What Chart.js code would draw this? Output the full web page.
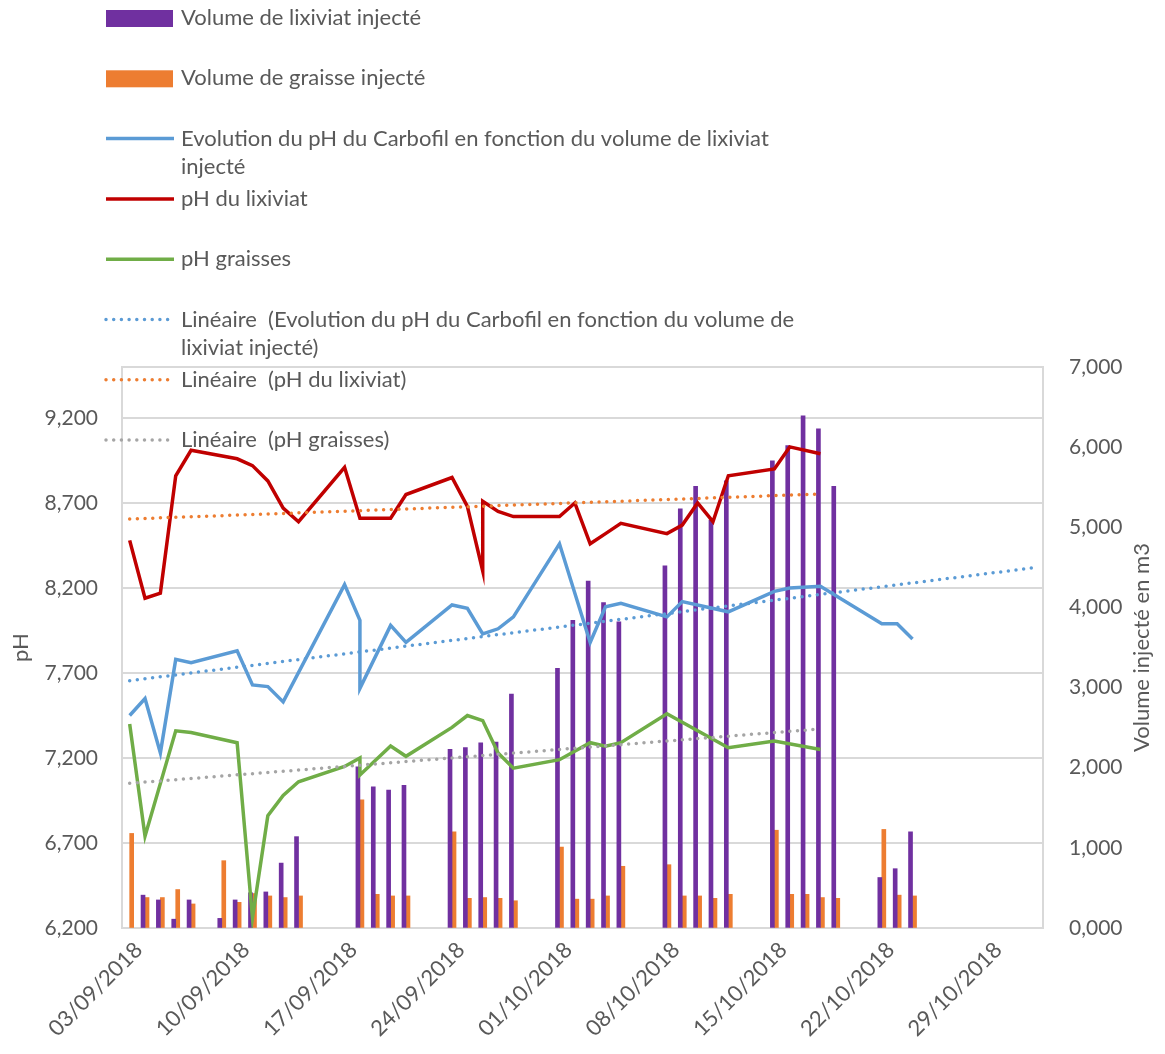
<!DOCTYPE html>
<html>
<head>
<meta charset="utf-8">
<script src="https://cdn.jsdelivr.net/npm/chart.js@4.4.1/dist/chart.umd.min.js"></script>
<style>
  html, body { margin: 0; padding: 0; background: #fff; }
  #wrap { width: 1165px; height: 1054px; position: relative; }
</style>
</head>
<body>
<div id="wrap"><canvas id="phChart"></canvas></div>
<script>
// ---------------- data ----------------
const volumeDates = ['03/09/2018', '04/09/2018', '05/09/2018', '06/09/2018', '07/09/2018', '09/09/2018',
  '10/09/2018', '11/09/2018', '12/09/2018', '13/09/2018', '14/09/2018', '18/09/2018', '19/09/2018',
  '20/09/2018', '21/09/2018', '24/09/2018', '25/09/2018', '26/09/2018', '27/09/2018', '28/09/2018',
  '01/10/2018', '02/10/2018', '03/10/2018', '04/10/2018', '05/10/2018', '08/10/2018', '09/10/2018',
  '10/10/2018', '11/10/2018', '12/10/2018', '15/10/2018', '16/10/2018', '17/10/2018', '18/10/2018',
  '19/10/2018', '22/10/2018', '23/10/2018', '24/10/2018'];
const volumeLixiviat = [null, 0.41, 0.35, 0.11, 0.35, 0.12, 0.35, 0.44, 0.45, 0.81, 1.14, 2.01, 1.76,
  1.72, 1.78, 2.23, 2.25, 2.31, 2.32, 2.92, 3.24, 3.84, 4.33, 4.06, 3.82, 4.52, 5.23, 5.51, 5.09, 5.58,
  5.83, 6.02, 6.39, 6.23, 5.51, 0.63, 0.74, 1.20];
const volumeGraisse = [1.18, 0.38, 0.38, 0.48, 0.30, 0.84, 0.32, 0.43, 0.40, 0.38, 0.40, 1.60, 0.42,
  0.40, 0.40, 1.20, 0.37, 0.38, 0.37, 0.34, 1.01, 0.36, 0.36, 0.40, 0.77, 0.79, 0.40, 0.40, 0.37, 0.42,
  1.22, 0.42, 0.42, 0.38, 0.37, 1.23, 0.41, 0.40];

const carbofilDates = ['03/09/2018', '04/09/2018', '05/09/2018', '06/09/2018', '07/09/2018', '10/09/2018',
  '11/09/2018', '12/09/2018', '13/09/2018', '17/09/2018', '18/09/2018', '18/09/2018', '20/09/2018',
  '21/09/2018', '24/09/2018', '25/09/2018', '26/09/2018', '27/09/2018', '28/09/2018', '01/10/2018',
  '03/10/2018', '04/10/2018', '05/10/2018', '08/10/2018', '09/10/2018', '12/10/2018', '15/10/2018',
  '16/10/2018', '18/10/2018', '22/10/2018', '23/10/2018', '24/10/2018'];
const carbofilPH = [7.45, 7.55, 7.23, 7.78, 7.76, 7.83, 7.63, 7.62, 7.53, 8.22, 8.01, 7.61, 7.98, 7.88,
  8.10, 8.08, 7.93, 7.96, 8.03, 8.46, 7.88, 8.09, 8.11, 8.03, 8.12, 8.06, 8.18, 8.20, 8.21, 7.99, 7.99, 7.90];

const lixiviatDates = ['03/09/2018', '04/09/2018', '05/09/2018', '06/09/2018', '07/09/2018', '10/09/2018',
  '11/09/2018', '12/09/2018', '13/09/2018', '14/09/2018', '17/09/2018', '18/09/2018', '20/09/2018',
  '21/09/2018', '24/09/2018', '25/09/2018', '26/09/2018', '26/09/2018', '27/09/2018', '28/09/2018',
  '01/10/2018', '02/10/2018', '03/10/2018', '04/10/2018', '05/10/2018', '08/10/2018', '09/10/2018',
  '10/10/2018', '11/10/2018', '12/10/2018', '15/10/2018', '16/10/2018', '18/10/2018'];
const lixiviatPH = [8.48, 8.14, 8.17, 8.86, 9.01, 8.96, 8.92, 8.83, 8.67, 8.59, 8.91, 8.61, 8.61, 8.75,
  8.85, 8.68, 8.30, 8.71, 8.65, 8.62, 8.62, 8.70, 8.46, 8.52, 8.58, 8.52, 8.57, 8.70, 8.59, 8.86, 8.90,
  9.03, 8.99];

const graissesDates = ['03/09/2018', '04/09/2018', '06/09/2018', '07/09/2018', '10/09/2018', '11/09/2018',
  '12/09/2018', '13/09/2018', '14/09/2018', '17/09/2018', '18/09/2018', '18/09/2018', '20/09/2018',
  '21/09/2018', '24/09/2018', '25/09/2018', '26/09/2018', '27/09/2018', '28/09/2018', '01/10/2018',
  '03/10/2018', '04/10/2018', '05/10/2018', '08/10/2018', '12/10/2018', '15/10/2018', '18/10/2018'];
const graissesPH = [7.40, 6.74, 7.36, 7.35, 7.29, 6.26, 6.86, 6.98, 7.06, 7.15, 7.20, 7.10, 7.27, 7.21,
  7.38, 7.45, 7.42, 7.23, 7.14, 7.19, 7.29, 7.27, 7.29, 7.46, 7.26, 7.30, 7.25];

// trend lines (start / end as seen on the picture)
const trendCarbofilDates = ['03/09/2018', '01/11/2018'];
const trendCarbofilPH = [7.655, 8.32];
const trendLixiviatDates = ['03/09/2018', '18/10/2018'];
const trendLixiviatPH = [8.606, 8.753];
const trendGraissesDates = ['03/09/2018', '18/10/2018'];
const trendGraissesPH = [7.051, 7.371];

const xTickLabels = ['03/09/2018', '10/09/2018', '17/09/2018', '24/09/2018', '01/10/2018',
  '08/10/2018', '15/10/2018', '22/10/2018', '29/10/2018'];
const phTicks = [6.2, 6.7, 7.2, 7.7, 8.2, 8.7, 9.2];
const volumeTicks = [0, 1, 2, 3, 4, 5, 6, 7];

// ---------------- helpers ----------------
const START = Date.UTC(2018, 8, 3);
function dayIndex(str) {
  const [dd, mm, yy] = str.split('/').map(Number);
  return Math.round((Date.UTC(yy, mm - 1, dd) - START) / 86400000);
}
function dayLabel(idx) {
  const d = new Date(START + idx * 86400000);
  const p = (n) => String(n).padStart(2, '0');
  return p(d.getUTCDate()) + '/' + p(d.getUTCMonth() + 1) + '/' + d.getUTCFullYear();
}
function toPoints(dates, values) {
  return dates.map((s, i) => ({ x: dayIndex(s), y: values[i] }));
}
const fr = (v) => v.toFixed(3).replace('.', ',');

const GREY_TEXT = '#595959';
const GRID = '#D9D9D9';
const FONT = 'Lato';

// ---------------- legend drawn over the top of the chart ----------------
const sideLegend = {
  id: 'sideLegend',
  afterDraw(chart) {
    const ctx = chart.ctx;
    ctx.save();
    ctx.font = '22px ' + FONT;
    ctx.textBaseline = 'middle';
    chart.data.datasets.forEach((ds, i) => {
      const y = 18 + i * 60.3;
      if (ds.type === 'bar') {
        ctx.fillStyle = ds.backgroundColor;
        ctx.fillRect(106, y - 8, 67, 17);
      } else {
        ctx.strokeStyle = ds.borderColor;
        ctx.lineWidth = 3.5;
        ctx.lineCap = ds.borderDash ? 'round' : 'butt';
        ctx.setLineDash(ds.borderDash ? [0, 7.7] : []);
        ctx.beginPath();
        ctx.moveTo(106, y);
        ctx.lineTo(ds.borderDash ? 170 : 174, y);
        ctx.stroke();
      }
      ctx.fillStyle = GREY_TEXT;
      const lines = Array.isArray(ds.label) ? ds.label : [ds.label];
      lines.forEach((t, j) => ctx.fillText(t, 181, y + j * 28));
    });
    // right axis title, read from bottom to top
    const area = chart.chartArea;
    ctx.translate(1142, (area.top + area.bottom) / 2);
    ctx.rotate(-Math.PI / 2);
    ctx.textAlign = 'center';
    ctx.font = '22px ' + FONT;
    ctx.fillText('Volume injecté en m3', 0, 0);
    ctx.restore();
  }
};

// ---------------- chart ----------------
const ctx = document.querySelector('#phChart').getContext('2d');
const chart = new Chart(ctx, {
  type: 'bar',
  data: {
    datasets: [
      {
        type: 'bar', label: 'Volume de lixiviat injecté', yAxisID: 'y2', order: 2,
        data: toPoints(volumeDates, volumeLixiviat),
        backgroundColor: '#7030A0', barThickness: 4,
      },
      {
        type: 'bar', label: 'Volume de graisse injecté', yAxisID: 'y2', order: 2,
        data: toPoints(volumeDates, volumeGraisse),
        backgroundColor: '#ED7D31', barThickness: 4,
      },
      {
        type: 'line', label: ['Evolution du pH du Carbofil en fonction du volume de lixiviat', 'injecté'],
        yAxisID: 'y', order: 1, data: toPoints(carbofilDates, carbofilPH),
        borderColor: '#5B9BD5', borderWidth: 3.5, pointRadius: 0, tension: 0,
      },
      {
        type: 'line', label: 'pH du lixiviat', yAxisID: 'y', order: 1,
        data: toPoints(lixiviatDates, lixiviatPH),
        borderColor: '#C00000', borderWidth: 3.5, pointRadius: 0, tension: 0,
      },
      {
        type: 'line', label: 'pH graisses', yAxisID: 'y', order: 1,
        data: toPoints(graissesDates, graissesPH),
        borderColor: '#70AD47', borderWidth: 3.5, pointRadius: 0, tension: 0,
      },
      {
        type: 'line', label: ['Linéaire  (Evolution du pH du Carbofil en fonction du volume de', 'lixiviat injecté)'],
        yAxisID: 'y', order: 0, data: toPoints(trendCarbofilDates, trendCarbofilPH),
        borderColor: '#5B9BD5', borderWidth: 3.5, borderDash: [0, 7.7], borderCapStyle: 'round', pointRadius: 0,
      },
      {
        type: 'line', label: 'Linéaire  (pH du lixiviat)', yAxisID: 'y', order: 0,
        data: toPoints(trendLixiviatDates, trendLixiviatPH),
        borderColor: '#ED7D31', borderWidth: 3.5, borderDash: [0, 7.7], borderCapStyle: 'round', pointRadius: 0,
      },
      {
        type: 'line', label: 'Linéaire  (pH graisses)', yAxisID: 'y', order: 0,
        data: toPoints(trendGraissesDates, trendGraissesPH),
        borderColor: '#A5A5A5', borderWidth: 3.5, borderDash: [0, 7.7], borderCapStyle: 'round', pointRadius: 0,
      },
    ],
  },
  options: {
    responsive: true,
    maintainAspectRatio: false,
    animation: false,
    layout: { padding: { top: 367, left: 0, right: 0, bottom: 0 } },
    plugins: { legend: { display: false }, tooltip: { enabled: false } },
    scales: {
      x: {
        type: 'linear', offset: false, min: -0.5, max: 59.5,
        afterBuildTicks: (scale) => { scale.ticks = xTickLabels.map((s) => ({ value: dayIndex(s) })); },
        afterFit: (scale) => { scale.height = 126; },
        ticks: {
          autoSkip: false, minRotation: 45, maxRotation: 45, padding: 9, labelOffset: 9,
          color: GREY_TEXT, font: { family: FONT, size: 22 },
          callback: (v) => dayLabel(v),
        },
        grid: { display: false, drawTicks: false },
        border: { display: true, color: GRID, width: 2 },
      },
      y: {
        position: 'left', min: 6.2, max: 9.5,
        afterBuildTicks: (scale) => { scale.ticks = phTicks.concat([9.5]).map((v) => ({ value: v })); },
        afterFit: (scale) => { scale.width = 122; },
        ticks: {
          padding: 24, color: GREY_TEXT, font: { family: FONT, size: 21 },
          callback: (v) => (v > 9.3 ? '' : fr(v)),
        },
        grid: { color: GRID, lineWidth: 2, drawTicks: false },
        border: { display: true, color: GRID, width: 2 },
        title: { display: true, text: 'pH', color: GREY_TEXT, font: { family: FONT, size: 22 }, padding: { top: 8 } },
      },
      y2: {
        position: 'right', min: 0, max: 7,
        afterBuildTicks: (scale) => { scale.ticks = volumeTicks.map((v) => ({ value: v })); },
        afterFit: (scale) => { scale.width = 122; },
        ticks: { padding: 26, color: GREY_TEXT, font: { family: FONT, size: 21 }, callback: (v) => fr(v) },
        grid: { drawOnChartArea: false, drawTicks: false },
        border: { display: true, color: GRID, width: 2 },
      },
    },
  },
  plugins: [sideLegend],
});
</script>
</body>
</html>
